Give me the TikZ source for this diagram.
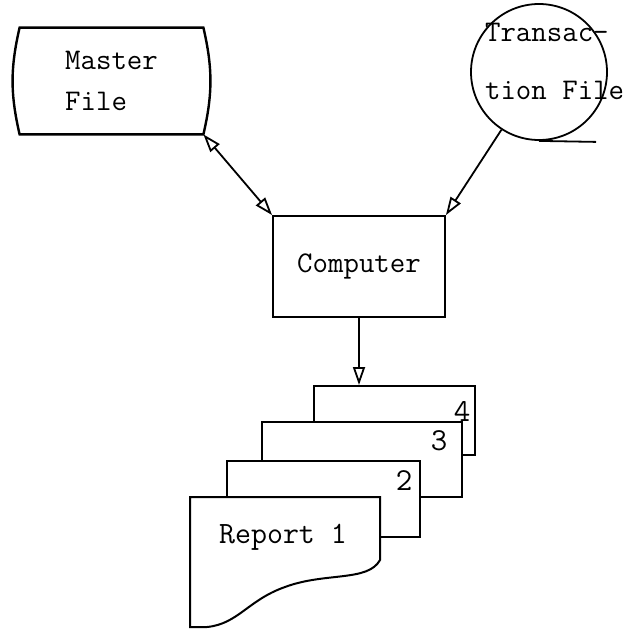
\documentclass[tikz,border=0pt]{standalone}
\usetikzlibrary{arrows.meta, positioning, calc}

\begin{document}
\begin{tikzpicture}[
    x=0.5pt, y=-0.5pt,
    every node/.style={font=\ttfamily\fontsize{15}{20.5}\selectfont},
    filebox/.style={rectangle, minimum width=91.5pt, minimum height=53pt,
                 inner sep=0pt, align=left},
    tapefile/.style={circle, draw, line width=0.9pt, minimum size=68pt, inner sep=0pt},
    procbox/.style={rectangle, draw, line width=0.9pt, minimum width=86pt,
                 minimum height=50.5pt},
    pagebox/.style={rectangle, draw, fill=white, line width=1pt, inner sep=0pt},
    pagenum/.style={font=\ttfamily\fontsize{16}{18}\selectfont},
    myarrow/.style={-{Triangle[open, length=9pt, width=6pt]}, line width=0.9pt},
]
\useasboundingbox (0,0) rectangle (636,633);

% Master file (stored data)
\node[filebox] (master) at (111.5,81) {Master\\File};
\draw[line width=1.2pt] (master.north west) -- (master.north east)
    to[bend left=13] (master.south east) -- (master.south west)
    to[bend left=13] cycle;

% Transaction file (tape)
\node[tapefile] (trans) at (539,72) {};
\draw[line width=0.9pt] (trans.south) -- ++(57,1);
\node[anchor=west, align=left, font=\ttfamily\fontsize{15}{29}\selectfont]
    (transtext) at (478,61) {Transac-\\tion File};

\node[procbox] (computer) at (359,266.5) {Computer};

% Report pages, back to front
\node[pagebox, minimum width=80.5pt, minimum height=34.5pt] (page4) at (394.5,420.5) {};
\node[pagebox, minimum width=100pt, minimum height=37.5pt] (page3) at (362,459.5) {};
\node[pagebox, minimum width=96.5pt, minimum height=38pt] (page2) at (323.5,499) {};
\draw[fill=white, line width=1pt] (190,497) -- (380,497) -- (380,560)
    .. controls (368,582) and (325,572) .. (285,587)
    .. controls (248,600) and (238,624) .. (207,627) -- (190,627) -- cycle;

\node[pagenum] (num4) at ($(page4.north east)+(-14,26)$) {4};
\node[pagenum] (num3) at ($(page3.north east)+(-24,20)$) {3};
\node[pagenum] (num2) at ($(page2.north east)+(-17,21)$) {2};
\node[font=\ttfamily\fontsize{15.5}{18}\selectfont] (report) at (283,537) {Report 1};

\draw[{Triangle[open, length=9pt, width=6pt]}-{Triangle[open, length=9pt, width=6pt]},
    line width=0.9pt] (master.south east) -- (computer.north west);
\draw[myarrow] (trans) -- (computer.north east);
\draw[myarrow] (computer.south) -- (computer.south |- page4.north);

\end{tikzpicture}
\end{document}
